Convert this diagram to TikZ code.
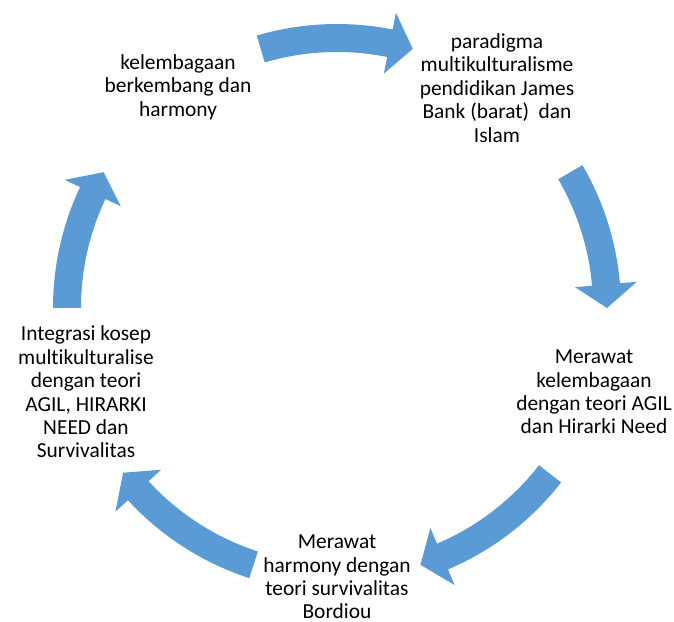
\documentclass[tikz,border=0pt]{standalone}
\usepackage{fontspec}
\setmainfont{Carlito}[RawFeature={-liga;-clig;-calt;-dlig}]
\definecolor{arrowblue}{RGB}{91,155,213}
% block arrow on the cycle: tail angle, head base angle, tip angle
\newcommand{\cyclearrow}[3]{%
  \fill [arrowblue] ([shift={(ctr)}] #1:284bp) arc[start angle=#1, end angle=#2, radius=284bp]
    -- ([shift={(ctr)}] #2:301bp) -- ([shift={(ctr)}] #3:270bp) -- ([shift={(ctr)}] #2:239bp)
    -- ([shift={(ctr)}] #2:256bp) arc[start angle=#2, end angle=#1, radius=256bp] -- cycle;}
\begin{document}
\begin{tikzpicture}[>=latex,line join=bevel,
  every node/.style={align=center,inner sep=0pt,font=\fontsize{21.5}{23.5}\selectfont},]
\useasboundingbox (0bp,0bp) rectangle (674bp,622bp);
%%
\coordinate (ctr) at (337bp,314bp);
\node (node_0) at (178bp,535bp) [draw=none] {kelembagaan\\berkembang dan\\harmony};
  \node (node_1) at (497bp,534bp) [draw=none] {paradigma\\multikulturalisme\\pendidikan James\\Bank (barat) \ dan\\Islam};
  \node (node_2) at (594bp,230bp) [draw=none] {Merawat\\kelembagaan\\dengan teori AGIL\\dan Hirarki Need};
  \node (node_3) at (337bp,45bp) [draw=none] {Merawat\\harmony dengan\\teori survivalitas\\Bordiou};
  \node (node_4) at (86bp,230bp) [draw=none] {Integrasi kosep\\multikulturalise\\dengan teori\\AGIL, HIRARKI\\NEED dan\\Survivalitas};
%
\cyclearrow{106.4}{78.7}{73.7}
\cyclearrow{30.2}{5}{0}
\cyclearrow{-37.9}{-67}{-72}
\cyclearrow{-108}{-137.4}{-142.4}
\cyclearrow{180}{154.8}{149.8}
%
\end{tikzpicture}
\end{document}
